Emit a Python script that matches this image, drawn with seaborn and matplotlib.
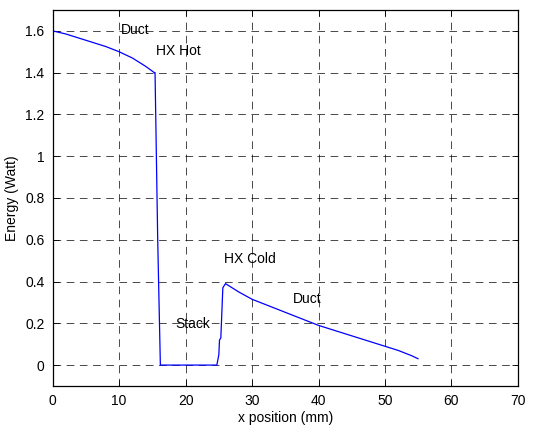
import matplotlib
matplotlib.use("Agg")
import matplotlib.pyplot as plt
import seaborn as sns
import pandas as pd

sns.set_style("white")
plt.rcParams['font.family'] = ['Liberation Sans', 'DejaVu Sans']
plt.rcParams['lines.scale_dashes'] = False
plt.rcParams['text.color'] = 'black'
plt.rcParams['axes.labelcolor'] = 'black'
plt.rcParams['xtick.color'] = 'black'
plt.rcParams['ytick.color'] = 'black'

x_mm = [0, 2, 4, 6, 8, 10, 12, 14, 15.3, 15.4, 15.8, 16.2, 20, 24.7, 25.0, 25.1, 25.3, 25.6, 26.0,
        27, 28, 30, 32, 34, 36, 38, 40, 42, 44, 46, 48, 50, 52, 54, 55]
energy = [1.60, 1.585, 1.565, 1.545, 1.525, 1.50, 1.47, 1.43, 1.40, 1.40, 0.60, 0.0, 0.0, 0.0, 0.05, 0.12, 0.13, 0.37, 0.39,
          0.37, 0.35, 0.315, 0.29, 0.265, 0.24, 0.215, 0.19, 0.17, 0.15, 0.13, 0.11, 0.09, 0.07, 0.045, 0.03]

labels = ["Duct", "HX Hot", "Stack", "HX Cold", "Duct"]
label_x = [10.3, 15.6, 18.4, 25.8, 36.2]
label_y = [1.605, 1.505, 0.195, 0.51, 0.315]

df = pd.DataFrame({"x": x_mm, "E": energy})

fig = plt.figure(figsize=(5.39, 4.26), dpi=100)
ax = fig.add_axes([0.0978, 0.094, 0.863, 0.8825])
sns.lineplot(data=df, x="x", y="E", sort=False, estimator=None, color="#0000ff", lw=0.9, ax=ax)

ax.set_xlim(0, 70)
ax.set_ylim(-0.1, 1.7)
ax.set_xticks(range(0, 71, 10))
ax.set_yticks([0, 0.2, 0.4, 0.6, 0.8, 1.0, 1.2, 1.4, 1.6])
ax.set_yticklabels(["0", "0.2", "0.4", "0.6", "0.8", "1", "1.2", "1.4", "1.6"])
ax.grid(True, color="black", linestyle=(0, (5.5, 4)), linewidth=0.5)
ax.tick_params(direction="in", length=4, width=0.6, labelsize=10, bottom=True, left=True,
               top=True, right=True, pad=6)
for s in ax.spines.values():
    s.set_linewidth(0.9)
    s.set_color("black")
ax.set_xlabel("x position (mm)", fontsize=10, labelpad=2)
ax.set_ylabel("Energy (Watt)", fontsize=10, labelpad=4)

for t, xx, yy in zip(labels, label_x, label_y):
    ax.text(xx, yy, t, fontsize=10, ha="left", va="center")

fig.savefig("out.png", dpi=100)
